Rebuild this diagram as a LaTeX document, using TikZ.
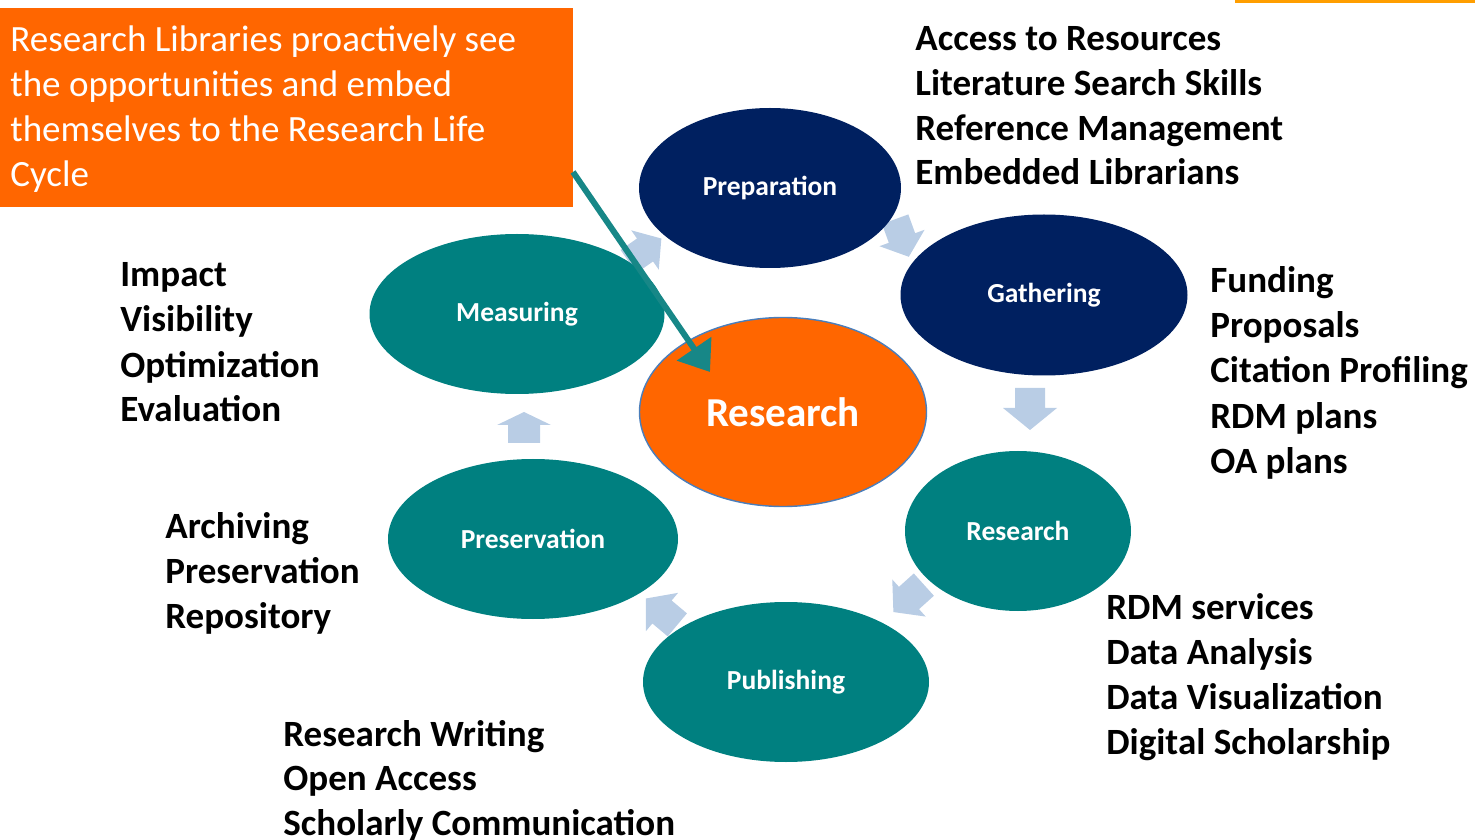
\documentclass[tikz,border=0pt]{standalone}
\usepackage{fontspec}
\setmainfont{Carlito}
\usetikzlibrary{shapes.geometric,arrows.meta}

% one drawing unit
\newcommand\pxu{0.5669pt}

\definecolor{navy}{HTML}{002060}
\definecolor{tealfill}{HTML}{008080}
\definecolor{hub}{HTML}{FF6600}
\definecolor{hubline}{HTML}{4A7EBB}
\definecolor{flowblue}{HTML}{B9CDE5}
\definecolor{pointer}{HTML}{178787}
\definecolor{accent}{HTML}{FF9E00}

\tikzset{
  stage/.style={ellipse, inner sep=0pt, text=white,
    font=\bfseries\fontsize{15.6}{18}\selectfont},
  navystage/.style={stage, fill=navy},
  tealstage/.style={stage, fill=tealfill},
  listline/.style={anchor=base west, inner sep=0pt,
    font=\bfseries\fontsize{21}{25}\selectfont},
  boxline/.style={anchor=base west, inner sep=0pt, text=white,
    font=\fontsize{21}{25}\selectfont},
}

% block arrow: position, direction, shaft length, shaft half width, head length, head half width
\newcommand\flowarrow[6]{%
  \fill[flowblue, shift={#1}, rotate=#2]
    (-#3,-#4) -- (0,-#4) -- (0,-#6) -- (#5,0) -- (0,#6) -- (0,#4) -- (-#3,#4) -- cycle;}

\begin{document}
\begin{tikzpicture}[x=\pxu, y=-\pxu]
\useasboundingbox (0,0) rectangle (1475,840);

% accent strip at the top edge
\fill[accent] (1235,0) rectangle (1475,3);

% flow arrows between the stages
\flowarrow{(902,238)}{-70}{20}{14}{20}{24}
\flowarrow{(1030,408)}{-90}{20}{15}{22}{27}
\flowarrow{(909,598)}{222}{20}{15}{21}{25}
\flowarrow{(662,612)}{140}{20}{15}{21}{25}
\flowarrow{(524,425)}{90}{18}{16}{13}{27}
\flowarrow{(645,250)}{35}{20}{14}{20}{24}

% stages of the cycle
\node[navystage, minimum width=262*\pxu, minimum height=160*\pxu] (prep) at (770,188) {Preparation};
\node[navystage, minimum width=287*\pxu, minimum height=161*\pxu] (gather) at (1044,295) {Gathering};
\node[tealstage, minimum width=226*\pxu, minimum height=160*\pxu] (study) at (1018,531) {Research};
\node[tealstage, minimum width=286*\pxu, minimum height=160*\pxu] (publish) at (786,682) {Publishing};
\node[tealstage, minimum width=290*\pxu, minimum height=160*\pxu] (preserve) at (533,539) {Preservation};
\node[tealstage, minimum width=295*\pxu, minimum height=160*\pxu] (measure) at (517,314) {Measuring};

% central hub
\node[ellipse, inner sep=0pt, fill=hub, draw=hubline, line width=0.8pt, text=white,
  minimum width=287*\pxu, minimum height=189*\pxu,
  font=\bfseries\fontsize{23.3}{27}\selectfont] (hubnode) at (783,412) {Research};

% statement box
\node[fill=hub, inner sep=0pt, anchor=north west,
  minimum width=573*\pxu, minimum height=199*\pxu] (note) at (0,8) {};
\foreach \t [count=\i] in {Research Libraries proactively see,
    the opportunities and embed,
    themselves to the Research Life,
    Cycle}
  \node[boxline] (noteline\i) at (10,{52+45*(\i-1)}) {\t};

% service lists
\foreach \t [count=\i] in {Access to Resources, Literature Search Skills,
    Reference Management, Embedded Librarians}
  \node[listline] (prepitem\i) at (915,{51+44.6*(\i-1)}) {\t};
\foreach \t [count=\i] in {Funding, Proposals, Citation Profiling, RDM plans, OA plans}
  \node[listline] (gatheritem\i) at (1210,{293+45*(\i-1)}) {\t};
\foreach \t [count=\i] in {RDM services, Data Analysis, Data Visualization, Digital Scholarship}
  \node[listline] (studyitem\i) at (1106,{619+45*(\i-1)}) {\t};
\foreach \t [count=\i] in {Research Writing, Open Access, Scholarly Communication}
  \node[listline] (publishitem\i) at (283,{746+44.5*(\i-1)}) {\t};
\foreach \t [count=\i] in {Archiving, Preservation, Repository}
  \node[listline] (preserveitem\i) at (165,{538+45*(\i-1)}) {\t};
\foreach \t [count=\i] in {Impact, Visibility, Optimization, Evaluation}
  \node[listline] (measureitem\i) at (120,{287+45*(\i-1)}) {\t};

% pointer from the statement into the hub
\coordinate (pstart) at (573,172);
\coordinate (ptip) at (710,372);
\draw[pointer, line width=3.4pt, -{Triangle[length=16pt, width=23pt]}] (pstart) -- (ptip);

\end{tikzpicture}
\end{document}
